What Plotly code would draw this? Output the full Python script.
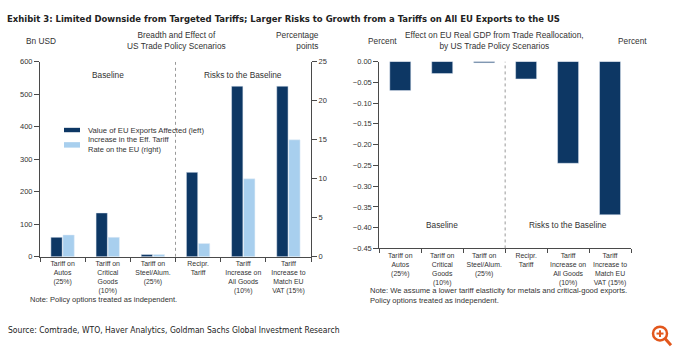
import plotly.graph_objects as go

categories = ["Tariff on<br>Autos<br>(25%)", "Tariff on<br>Critical<br>Goods<br>(10%)",
              "Tariff on<br>Steel/Alum.<br>(25%)", "Recipr.<br>Tariff",
              "Tariff<br>Increase on<br>All Goods<br>(10%)", "Tariff<br>Increase to<br>Match EU<br>VAT (15%)"]
exports_affected_bn = [60, 135, 7, 260, 525, 525]
tariff_increase_pp = [2.8, 2.5, 0.3, 1.7, 10.0, 15.0]
gdp_effect_pct = [-0.070, -0.029, -0.003, -0.042, -0.245, -0.369]
series_names = ["Value of EU Exports Affected (left)", "Increase in the Eff. Tariff<br>Rate on the EU (right)"]
left_ticks = [0, 100, 200, 300, 400, 500, 600]
right_ticks = [0, 5, 10, 15, 20, 25]
gdp_ticks = [0.00, -0.05, -0.10, -0.15, -0.20, -0.25, -0.30, -0.35, -0.40, -0.45]

DARK = "#0d3764"
LIGHT = "#a8cfee"
AX = "#4a4a4a"
TXT = "#333333"
FONT = "Liberation Sans, Arial, sans-serif"
COND = "DejaVu Sans Condensed, DejaVu Sans, sans-serif"
W, H = 680, 360

def px(x): return x / W
def py(y): return 1 - y / H

fig = go.Figure()
fig.add_trace(go.Bar(x=categories, y=exports_affected_bn, name=series_names[0], marker_color=DARK,
                     xaxis="x", yaxis="y", offsetgroup="a", showlegend=False))
fig.add_trace(go.Bar(x=categories, y=tariff_increase_pp, name=series_names[1], marker_color=LIGHT,
                     xaxis="x", yaxis="y2", offsetgroup="b", showlegend=False))
fig.add_trace(go.Bar(x=categories, y=gdp_effect_pct, name="GDP effect", marker_color=DARK,
                     xaxis="x2", yaxis="y3", offsetgroup="c", showlegend=False))

ytick_font = dict(family=FONT, size=7.5, color=TXT)
xtick_font = dict(family=FONT, size=6.9, color=TXT)
common_y = dict(showline=True, linecolor=AX, linewidth=1, ticks="outside", ticklen=5, tickcolor=AX,
                showgrid=False, zeroline=False, tickfont=ytick_font, fixedrange=True)
common_x = dict(type="category", showline=True, linecolor=AX, linewidth=1, ticks="outside",
                tickson="boundaries", ticklen=4, tickcolor=AX, showgrid=False, tickfont=xtick_font,
                tickangle=0, fixedrange=True)

fig.update_layout(
    width=W, height=H, margin=dict(l=0, r=0, t=0, b=0),
    paper_bgcolor="white", plot_bgcolor="white",
    barmode="group", bargap=0.467, bargroupgap=0.06,
    font=dict(family=FONT, color=TXT),
    xaxis=dict(domain=[px(40), px(311)], anchor="y", **common_x),
    yaxis=dict(domain=[py(259.3), py(59.3)], range=[0, 600], tickvals=left_ticks, **common_y),
    yaxis2=dict(overlaying="y", side="right", anchor="x", range=[0, 25], tickvals=right_ticks, **common_y),
    xaxis2=dict(domain=[px(379.3), px(631)], anchor="y3", **common_x),
    yaxis3=dict(domain=[py(250.7), py(59)], anchor="x2", range=[-0.45, 0], tickvals=gdp_ticks,
                tickformat=".2f", **common_y),
    yaxis4=dict(overlaying="y3", side="right", anchor="x2", range=[-0.45, 0], tickvals=gdp_ticks,
                tickformat=".2f", **common_y),
)

# separators between baseline and risk scenarios
fig.add_shape(type="line", xref="x", yref="y", x0=2.5, x1=2.5, y0=0, y1=600,
              line=dict(color="#999999", width=1, dash="dot"))
fig.add_shape(type="line", xref="x2", yref="y3", x0=2.5, x1=2.5, y0=-0.45, y1=0,
              line=dict(color="#999999", width=1, dash="dot"))

def ann(text, x, y, size=8.3, xanchor="center", yanchor="middle", align="center", family=FONT,
        color=TXT, xref="paper", yref="paper"):
    fig.add_annotation(text=text, x=x, y=y, xref=xref, yref=yref, showarrow=False,
                       xanchor=xanchor, yanchor=yanchor, align=align,
                       font=dict(family=family, size=size, color=color))

# title and source
ann("<b>Exhibit 3: Limited Downside from Targeted Tariffs; Larger Risks to Growth from a Tariffs on All EU Exports to the US</b>",
    px(5), py(15), size=9.45, xanchor="left", family=COND, color="#222222")
ann("Source: Comtrade, WTO, Haver Analytics, Goldman Sachs Global Investment Research",
    px(6), py(334), size=8.5, xanchor="left", family=COND, color="#222222")

# headers left
ann("Bn USD", px(41), py(38))
ann("Breadth and Effect of<br>US Trade Policy Scenarios", px(176), py(37))
ann("Percentage<br>points", px(321), py(37), xanchor="right", align="right")
# headers right
ann("Percent", px(382), py(38))
ann("Effect on EU Real GDP from Trade Reallocation,<br>by US Trade Policy Scenarios", px(494), py(37))
ann("Percent", px(632), py(38))

# in-plot labels
ann("Baseline", 1, 558, xref="x", yref="y")
ann("Risks to the Baseline", 4, 558, xref="x", yref="y")
ann("Baseline", 1, -0.394, xref="x2", yref="y3")
ann("Risks to the Baseline", 4, -0.394, xref="x2", yref="y3")

# notes
ann("Note: Policy options treated as independent.", px(28), py(303), size=7.5, xanchor="left")
ann("Note: We assume a lower tariff elasticity for metals and critical-good exports.<br>Policy options treated as independent.",
    px(368), py(298.5), size=7.6, xanchor="left", align="left")

# legend (manual)
fig.add_shape(type="rect", xref="paper", yref="paper", x0=px(64), x1=px(80), y0=py(131.5), y1=py(127),
              fillcolor=DARK, line=dict(width=0))
fig.add_shape(type="rect", xref="paper", yref="paper", x0=px(64), x1=px(80), y0=py(147.3), y1=py(141.7),
              fillcolor=LIGHT, line=dict(width=0))
ann(series_names[0], px(86), py(129.3), size=7.7, xanchor="left")
ann(series_names[1], px(86), py(144), size=7.5, xanchor="left", align="left")

# magnifier icon
ORANGE = "#e2571c"
fig.add_shape(type="circle", xref="paper", yref="paper", x0=px(653), x1=px(667), y0=py(345), y1=py(331),
              line=dict(color=ORANGE, width=2.5))
fig.add_shape(type="line", xref="paper", yref="paper", x0=px(665), x1=px(671), y0=py(343), y1=py(350),
              line=dict(color=ORANGE, width=3))
fig.add_shape(type="line", xref="paper", yref="paper", x0=px(656.5), x1=px(663.5), y0=py(338), y1=py(338),
              line=dict(color=ORANGE, width=2))
fig.add_shape(type="line", xref="paper", yref="paper", x0=px(660), x1=px(660), y0=py(334.5), y1=py(341.5),
              line=dict(color=ORANGE, width=2))

fig.write_html("out.html", config={"displayModeBar": False},
               post_script="document.body.style.margin='0';document.body.style.overflow='hidden';")
